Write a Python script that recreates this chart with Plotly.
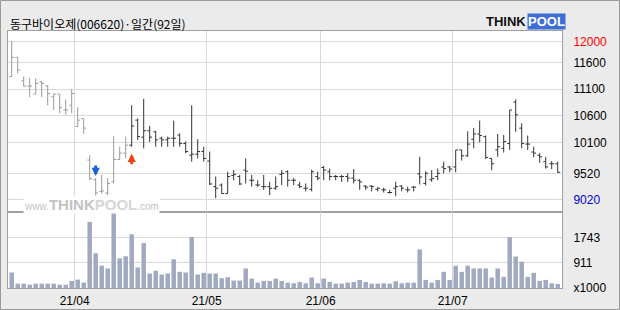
import plotly.graph_objects as go
import pandas as pd

# ---------------- data ----------------
dates = [d for d in pd.bdate_range("2021-03-17", "2021-07-26")
         if d.strftime("%m-%d") not in ("05-05", "05-19")]

opens = [11340, 11700, 11260, 11160, 11010, 11240, 11160, 10960, 11010, 10710,
         10800, 10400, 10550, 9770, 9400, 9180, 9150, 9360, 9780, 9900,
         10050, 10520, 10200, 10320, 10300, 10180, 10150, 10180, 10240, 10080,
         9860, 9880, 9930, 9750, 9270, 9300, 9140, 9480, 9460, 9580,
         9390, 9300, 9270, 9270, 9240, 9500, 9550, 9390, 9300, 9240,
         9220, 9460, 9630, 9550, 9460, 9460, 9460, 9430, 9390, 9280,
         9280, 9220, 9210, 9160, 9240, 9280, 9210, 9260, 9510, 9330,
         9400, 9460, 9640, 9640, 9640, 9960, 9850, 10160, 10260, 10210,
         9800, 9960, 9990, 10080, 10860, 10370, 10070, 9920, 9860, 9740,
         9700, 9700]
highs = [12000, 11700, 11340, 11310, 11310, 11260, 11180, 11020, 11010, 10910,
         11100, 10760, 10550, 9860, 9430, 9490, 9430, 10220, 10020, 10210,
         10800, 10550, 10920, 10410, 10320, 10210, 10210, 10510, 10270, 10120,
         10800, 10160, 10020, 9930, 9460, 9330, 9550, 9580, 9490, 9800,
         9490, 9390, 9490, 9360, 9460, 9580, 9580, 9430, 9360, 9330,
         9590, 9550, 9660, 9610, 9490, 9490, 9520, 9600, 9410, 9300,
         9300, 9260, 9250, 9210, 9360, 9300, 9270, 9280, 9830, 9560,
         9580, 9610, 9740, 9660, 9960, 9960, 10310, 10370, 10510, 10230,
         9800, 10260, 10240, 10710, 10910, 10460, 10230, 10020, 9900, 9830,
         9750, 9740]
lows = [11340, 11400, 11150, 10950, 11010, 10950, 10800, 10710, 10650, 10620,
        10650, 10400, 10260, 9390, 9020, 9140, 9110, 9330, 9770, 9800,
        10020, 10150, 9990, 10110, 10020, 10020, 10020, 10020, 10020, 9900,
        9740, 9800, 9740, 9300, 9050, 9140, 9140, 9390, 9300, 9330,
        9270, 9270, 9210, 9110, 9210, 9300, 9270, 9300, 9240, 9180,
        9180, 9390, 9390, 9390, 9390, 9360, 9360, 9330, 9210, 9210,
        9180, 9180, 9160, 9140, 9090, 9180, 9160, 9180, 9310, 9290,
        9360, 9390, 9520, 9540, 9540, 9760, 9830, 9990, 10100, 9790,
        9580, 9830, 9910, 9960, 10300, 9990, 9960, 9820, 9720, 9610,
        9600, 9530]
closes = [11700, 11460, 11160, 11160, 11210, 11210, 11020, 11010, 10760, 10710,
          11020, 10520, 10370, 9420, 9150, 9190, 9330, 9780, 9900, 10050,
          10410, 10210, 10320, 10200, 10150, 10150, 10180, 10180, 10080, 9930,
          9880, 9930, 9800, 9320, 9240, 9140, 9460, 9500, 9320, 9560,
          9390, 9300, 9270, 9240, 9270, 9520, 9390, 9390, 9270, 9240,
          9550, 9430, 9580, 9460, 9460, 9460, 9430, 9390, 9360, 9260,
          9270, 9240, 9210, 9160, 9270, 9240, 9210, 9260, 9450, 9520,
          9420, 9520, 9610, 9600, 9960, 9850, 10070, 10260, 10230, 9820,
          9700, 10020, 10120, 10710, 10620, 10080, 10070, 9900, 9830, 9640,
          9700, 9540]
volumes = [588, 222, 222, 189, 222, 222, 222, 222, 189, 189,
           312, 355, 256, 2252, 1221, 811, 721, 2575, 1054, 1121,
           1843, 755, 1553, 555, 645, 522, 555, 1021, 611, 588,
           1753, 522, 578, 555, 555, 402, 435, 322, 322, 721,
           389, 256, 312, 312, 389, 312, 256, 235, 279, 234,
           423, 234, 390, 279, 223, 223, 256, 279, 345, 279,
           223, 223, 234, 223, 301, 234, 256, 256, 1344, 345,
           256, 345, 611, 345, 811, 611, 811, 722, 722, 722,
           423, 722, 445, 1743, 1111, 944, 445, 578, 312, 345,
           234, 212]

n_gray = 20              # bars drawn in gray before the buy signal
sell_signals = [14]
buy_signals = [20]

price_ticks = [12000, 11600, 11100, 10600, 10100, 9520, 9020]
price_tick_colors = ["#ff0000", "#000", "#000", "#000", "#000", "#000", "#0000cc"]
vol_ticks = [79.5, 911, 1743]
vol_tick_text = ["x1000", "911", "1743"]

# ---------------- derived ----------------
idx = list(range(len(dates)))
month_pos, month_lbl = [], []
for i in range(1, len(dates)):
    if dates[i].month != dates[i - 1].month:
        month_pos.append(i - 0.5)
        month_lbl.append(dates[i].strftime("%y/%m"))

W, H = 620, 310
L, R, T, MID, B = 8, 562, 31, 212, 288
FONT = "Liberation Sans Narrow, Liberation Sans, Arial"
GRID = "#d9d9d9"
FRAME = "#a0a0a0"

fig = go.Figure()
for sl, col in ((slice(0, n_gray), "#9a9a9a"), (slice(n_gray, None), "#333333")):
    fig.add_trace(go.Ohlc(
        x=idx[sl], open=opens[sl], high=highs[sl], low=lows[sl], close=closes[sl],
        increasing_line_color=col, decreasing_line_color=col,
        line_width=1, tickwidth=0.4, xaxis="x", yaxis="y",
        showlegend=False, hoverinfo="skip"))

fig.add_trace(go.Bar(x=idx, y=volumes, marker_color="#a1a9c1", marker_line_width=0,
                     width=0.75, xaxis="x2", yaxis="y2", showlegend=False, hoverinfo="skip"))

xr = [(L - 11.7) / 6, (R - 11.7) / 6]
price_range = [12000 - (MID - 41.4) / 0.0532, 12000 + (41.4 - T) / 0.0532]

axis_common = dict(showgrid=True, gridcolor=GRID, gridwidth=1, zeroline=False,
                   showline=True, linecolor=FRAME, linewidth=1, mirror=True,
                   automargin=False, fixedrange=True)
TICKFONT = dict(family=FONT, size=12, color="#000")

fig.update_layout(
    template="none",
    width=W, height=H, autosize=False,
    margin=dict(l=0, r=0, t=0, b=0, pad=0),
    paper_bgcolor="#ebebeb", plot_bgcolor="#ffffff",
    showlegend=False,
    xaxis=dict(domain=[L / W, R / W], range=xr, anchor="y",
               tickvals=month_pos, showticklabels=False, ticks="",
               rangeslider=dict(visible=False), **axis_common),
    yaxis=dict(domain=[1 - MID / H, 1 - T / H], range=price_range, anchor="x",
               side="right", tickvals=price_ticks,
               ticktext=[f"<span style='color:{c}'>{v}</span>" for v, c in zip(price_ticks, price_tick_colors)],
               ticks="", ticklabelstandoff=8, tickfont=TICKFONT, **axis_common),
    xaxis2=dict(domain=[L / W, R / W], range=xr, anchor="y2",
                tickvals=month_pos, ticktext=month_lbl, ticks="",
                ticklabelstandoff=2, tickfont=TICKFONT, **axis_common),
    yaxis2=dict(domain=[1 - B / H, 1 - MID / H], range=[79, 2575], anchor="x2",
                side="right", tickvals=vol_ticks, ticktext=vol_tick_text,
                ticks="", ticklabelstandoff=8, tickfont=TICKFONT, **axis_common),
)

ann = []
# title
ann.append(dict(text="동구바이오제(006620)·일간(92일)", xref="paper", yref="paper",
                x=L / W, y=1 - 23 / H, xanchor="left", yanchor="middle", showarrow=False,
                font=dict(family="Noto Sans CJK KR", size=12, color="#000")))
# logo
ann.append(dict(text="<b>THINK</b>", xref="paper", yref="paper", x=527 / W, y=1 - 21.5 / H,
                xanchor="right", yanchor="middle", showarrow=False, borderpad=0,
                font=dict(family="Liberation Sans", size=13, color="#111")))
ann.append(dict(text="<b>POOL</b>", xref="paper", yref="paper", x=527 / W, y=1 - 21.5 / H,
                xanchor="left", yanchor="middle", showarrow=False, bgcolor="#3d6ed6",
                borderpad=0, font=dict(family="Liberation Sans", size=13, color="#ffffff")))
# watermark
ann.append(dict(text="<span style='font-size:10px'>www.</span><b>THINK</b>"
                     "<b><span style='color:#d6d6d6'>POOL</span></b>"
                     "<span style='font-size:10px'>.com</span>",
                xref="paper", yref="paper", x=23 / W, y=1 - 204 / H,
                xanchor="left", yanchor="middle", showarrow=False, bgcolor="#ffffff",
                borderpad=0, font=dict(family="Liberation Sans", size=15, color="#c2c2c2")))
# signals
for i in sell_signals:
    ann.append(dict(text="", x=i, y=highs[i], xref="x", yref="y", showarrow=True,
                    ax=0, ay=-12, yshift=2, arrowhead=2, arrowsize=0.55, arrowwidth=3,
                    arrowcolor="#1a5fe0"))
for i in buy_signals:
    ann.append(dict(text="", x=i, y=lows[i], xref="x", yref="y", showarrow=True,
                    ax=0, ay=12, yshift=-7, arrowhead=2, arrowsize=0.55, arrowwidth=3,
                    arrowcolor="#f04412"))
fig.update_layout(annotations=ann)

fig.add_shape(type="rect", xref="paper", yref="paper", x0=0.5 / W, y0=0.5 / H,
              x1=1 - 0.5 / W, y1=1 - 0.5 / H, line=dict(color="#9a9a9a", width=1),
              fillcolor="rgba(0,0,0,0)", layer="above")

fig.write_html("out.html")
